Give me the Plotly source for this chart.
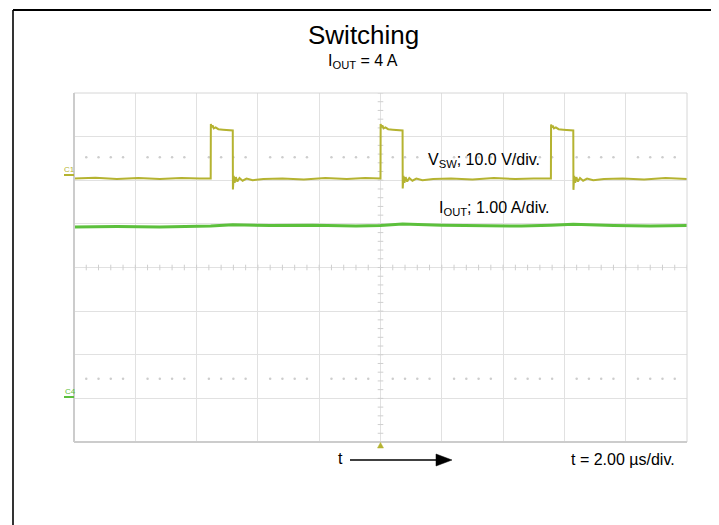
import plotly.graph_objects as go

# ---------------- data ----------------
# time in microseconds (2.00 us/div, 10 div), V_SW in volts (10 V/div), I_OUT in amps (1 A/div)
VSW_T = [-10.0, -9.3, -8.6, -7.9, -7.2, -6.5, -5.9,
         -5.54, -5.535, -5.51, -5.48, -5.44, -5.38, -5.29, -5.14, -4.99, -4.82,
         -4.815, -4.79, -4.76, -4.72, -4.67, -4.60, -4.50, -4.37, -4.17, -3.82,
         -3.2, -2.5, -1.8, -1.1, -0.5,
         0.00, 0.005, 0.03, 0.06, 0.10, 0.16, 0.25, 0.40, 0.55, 0.72,
         0.725, 0.75, 0.78, 0.82, 0.87, 0.94, 1.04, 1.17, 1.37, 1.72,
         2.3, 3.0, 3.7, 4.4, 5.0,
         5.56, 5.565, 5.59, 5.62, 5.66, 5.72, 5.81, 5.96, 6.11, 6.29,
         6.295, 6.32, 6.35, 6.39, 6.44, 6.51, 6.61, 6.74, 6.94, 7.29,
         7.9, 8.6, 9.3, 10.0]
VSW_V = [-0.8, -0.6, -0.9, -0.7, -0.9, -0.7, -0.8,
         -0.8, 11.7, 10.9, 11.4, 10.7, 10.9, 10.5, 10.4, 10.3, 10.2,
         -3.3, -0.2, -1.8, -0.5, -1.5, -0.7, -1.3, -0.8, -1.2, -0.9,
         -0.8, -1.0, -0.7, -0.9, -0.7,
         -0.8, 11.7, 10.9, 11.4, 10.7, 10.9, 10.5, 10.4, 10.3, 10.2,
         -3.1, -0.2, -1.8, -0.5, -1.5, -0.7, -1.3, -0.8, -1.2, -0.9,
         -0.8, -1.0, -0.7, -0.9, -0.8,
         -0.8, 11.6, 10.9, 11.3, 10.7, 10.9, 10.5, 10.4, 10.3, 10.2,
         -3.4, -0.2, -1.8, -0.5, -1.5, -0.7, -1.3, -0.8, -1.2, -0.9,
         -0.8, -1.0, -0.7, -0.9]

IOUT_T = [-10.0, -8.6, -7.2, -5.54, -4.82, -3.6, -2.2, -0.8, 0.0, 0.72,
          2.0, 3.4, 4.6, 5.56, 6.29, 7.6, 8.8, 10.0]
IOUT_A = [3.90, 3.91, 3.90, 3.92, 3.95, 3.93, 3.94, 3.92, 3.93, 3.97,
          3.94, 3.93, 3.92, 3.94, 3.96, 3.93, 3.92, 3.93]

TITLE = "Switching"
SUBTITLE = "I<sub>OUT</sub> = 4 A"
VSW_LABEL = "V<sub>SW</sub>; 10.0 V/div."
IOUT_LABEL = "I<sub>OUT</sub>; 1.00 A/div."
TIME_LABEL = "t = 2.00 µs/div."

# scope settings
US_PER_DIV = 2.0
V_PER_DIV = 10.0
A_PER_DIV = 1.0
C1_OFFSET_DIV = 2.12
C4_OFFSET_DIV = -2.97

# ---------------- styling / layout ----------------
PAGE_OFF = 8                      # default body margin of the html page
W, H = 719 - PAGE_OFF, 525 - PAGE_OFF
L, R, T, B = 74, 687, 93, 442     # plot area in window pixels
OLIVE = "#b5b331"
GREEN = "#5cc03c"
GRID = "#e1e1e1"
TICKC = "#cfcfcf"
FONT = "Arial, Liberation Sans, sans-serif"


def X(px):
    return (px - L) / (R - L)


def Y(py):
    return (B - py) / (B - T)


vsw_y = [v / V_PER_DIV + C1_OFFSET_DIV for v in VSW_V]
iout_y = [a / A_PER_DIV + C4_OFFSET_DIV for a in IOUT_A]

fig = go.Figure()

# graticule tick marks along the centre cross (every 0.2 div)
steps = [i * 0.2 for i in range(-25, 26)]
fig.add_trace(go.Scatter(x=[s * US_PER_DIV for s in steps], y=[0] * len(steps), mode="markers",
                         marker=dict(symbol="line-ns-open", size=4, color=TICKC,
                                     line=dict(color=TICKC, width=1)),
                         hoverinfo="skip", showlegend=False))
vsteps = [i * 0.2 for i in range(-20, 21)]
fig.add_trace(go.Scatter(x=[0] * len(vsteps), y=vsteps, mode="markers",
                         marker=dict(symbol="line-ew-open", size=4, color=TICKC,
                                     line=dict(color=TICKC, width=1)),
                         hoverinfo="skip", showlegend=False))
# dotted rows
dots = [s for s in steps if abs(s - round(s)) > 1e-6]
for yy in (2.53, -2.55):
    fig.add_trace(go.Scatter(x=[s * US_PER_DIV for s in dots], y=[yy] * len(dots), mode="markers",
                             marker=dict(symbol="circle", size=2.5, color="#cdcdcd"),
                             hoverinfo="skip", showlegend=False))

fig.add_trace(go.Scatter(x=IOUT_T, y=iout_y, mode="lines", line=dict(color=GREEN, width=3),
                         hoverinfo="skip", showlegend=False))
fig.add_trace(go.Scatter(x=VSW_T, y=vsw_y, mode="lines", line=dict(color=OLIVE, width=2),
                         hoverinfo="skip", showlegend=False))

shapes = []
# centre cross lines
shapes.append(dict(type="line", xref="x", yref="paper", x0=0, x1=0, y0=0, y1=1,
                   line=dict(color="#d2d2d2", width=1), layer="below"))
shapes.append(dict(type="line", xref="paper", yref="y", x0=0, x1=1, y0=0, y1=0,
                   line=dict(color="#d2d2d2", width=1), layer="below"))
# plot border
shapes.append(dict(type="rect", xref="paper", yref="paper", x0=0, x1=1, y0=0, y1=1,
                   line=dict(color="#d6d6d6", width=1)))
shapes.append(dict(type="line", xref="paper", yref="paper", x0=0, x1=0, y0=0, y1=1,
                   line=dict(color="#cccccc", width=2)))
shapes.append(dict(type="line", xref="paper", yref="paper", x0=0, x1=1, y0=0, y1=0,
                   line=dict(color="#cccccc", width=2)))
# outer black frame, drawn as separate segments
shapes.append(dict(type="line", xref="paper", yref="paper", x0=X(13), x1=X(360), y0=Y(10), y1=Y(10),
                   line=dict(color="black", width=1.8)))
shapes.append(dict(type="line", xref="paper", yref="paper", x0=X(360), x1=X(712), y0=Y(10), y1=Y(10),
                   line=dict(color="black", width=1.8)))
shapes.append(dict(type="line", xref="paper", yref="paper", x0=X(13), x1=X(13), y0=Y(10), y1=Y(540),
                   line=dict(color="black", width=1.6)))
shapes.append(dict(type="line", xref="paper", yref="paper", x0=X(712), x1=X(712), y0=Y(10), y1=Y(540),
                   line=dict(color="black", width=1.6)))
# channel ground markers
shapes.append(dict(type="line", xref="paper", yref="paper", x0=X(64), x1=X(74), y0=Y(175), y1=Y(175),
                   line=dict(color=OLIVE, width=2)))
shapes.append(dict(type="line", xref="paper", yref="paper", x0=X(64), x1=X(74), y0=Y(397), y1=Y(397),
                   line=dict(color=GREEN, width=2)))
# trigger marker
shapes.append(dict(type="path", xref="paper", yref="paper",
                   path=f"M {X(377.5)} {Y(448)} L {X(383.5)} {Y(448)} L {X(380.5)} {Y(442.5)} Z",
                   fillcolor=OLIVE, line=dict(color=OLIVE, width=0.5)))
# time arrow
shapes.append(dict(type="line", xref="paper", yref="paper", x0=X(350), x1=X(437), y0=Y(460), y1=Y(460),
                   line=dict(color="black", width=1.3)))
shapes.append(dict(type="path", xref="paper", yref="paper",
                   path=f"M {X(436)} {Y(454)} L {X(452)} {Y(460)} L {X(436)} {Y(466)} Z",
                   fillcolor="black", line=dict(color="black", width=0.5)))

ann = []


def text(t, px, py, size, xanchor="center", color="black"):
    ann.append(dict(text=t, xref="paper", yref="paper", x=X(px), y=Y(py), showarrow=False,
                    xanchor=xanchor, yanchor="middle", font=dict(family=FONT, size=size, color=color)))


text(TITLE, 363, 35, 26)
text(SUBTITLE, 362.5, 62, 16)
text(VSW_LABEL, 426, 160, 16, "left")
text(IOUT_LABEL, 437, 208, 16, "left")
text("t", 340.5, 459, 16)
text(TIME_LABEL, 569, 460, 16, "left")
text("C1", 69, 169, 8, color=OLIVE)
text("C4", 70, 391, 8, color=GREEN)

fig.update_layout(
    width=W, height=H,
    margin=dict(l=L - PAGE_OFF, r=W - (R - PAGE_OFF), t=T - PAGE_OFF, b=H - (B - PAGE_OFF), pad=0),
    paper_bgcolor="white", plot_bgcolor="white",
    shapes=shapes, annotations=ann,
    xaxis=dict(range=[-5 * US_PER_DIV, 5 * US_PER_DIV], dtick=US_PER_DIV, tick0=0,
               showgrid=True, gridcolor=GRID, gridwidth=1, zeroline=False,
               showticklabels=False, ticks="", showline=False, fixedrange=True),
    yaxis=dict(range=[-4, 4], dtick=1, tick0=0,
               showgrid=True, gridcolor=GRID, gridwidth=1, zeroline=False,
               showticklabels=False, ticks="", showline=False, fixedrange=True),
    showlegend=False,
)

fig.write_html("out.html", config={"displayModeBar": False})
